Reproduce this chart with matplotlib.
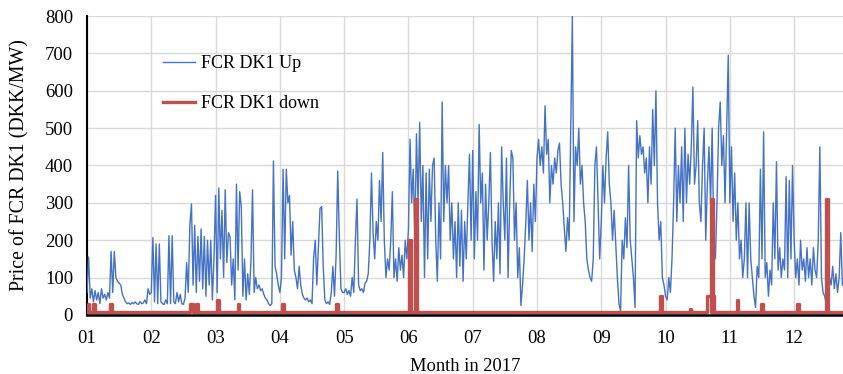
import matplotlib
matplotlib.use("Agg")
import matplotlib.pyplot as plt

# FCR DK1 prices 2017.
# Each "up" list holds values spread evenly over one month (40 per month).

MONTH_LABELS = ["01", "02", "03", "04", "05", "06", "07", "08", "09", "10", "11", "12"]
PER_MONTH = 40

up_jan = [60, 155, 45, 70, 35, 65, 40, 60, 30, 70, 45, 55, 40, 60, 45, 170, 60, 170, 100, 90,
          85, 80, 55, 45, 35, 30, 32, 28, 33, 30, 35, 30, 28, 36, 30, 32, 40, 30, 70, 55]
up_feb = [60, 207, 35, 190, 30, 190, 35, 30, 28, 40, 30, 212, 30, 212, 35, 30, 60, 35, 55, 30,
          28, 45, 140, 60, 240, 297, 80, 240, 60, 210, 90, 230, 70, 210, 50, 200, 80, 200, 40, 150]
up_mar = [320, 60, 340, 150, 280, 100, 335, 140, 220, 210, 80, 150, 40, 350, 120, 330, 290, 50, 150, 40,
          110, 55, 140, 335, 60, 100, 70, 80, 65, 70, 55, 45, 40, 30, 25, 30, 412, 130, 110, 80]
up_apr = [60, 100, 390, 150, 390, 300, 320, 160, 250, 120, 100, 70, 130, 80, 55, 45, 40, 45, 35, 40,
          30, 150, 200, 80, 180, 285, 290, 130, 40, 30, 35, 28, 60, 130, 50, 160, 385, 210, 70, 60]
up_may = [60, 70, 55, 65, 50, 100, 60, 200, 310, 80, 65, 70, 60, 85, 90, 110, 200, 380, 220, 150,
          250, 200, 360, 250, 435, 200, 100, 150, 120, 200, 330, 100, 150, 90, 180, 120, 160, 100, 200, 150]
up_jun = [230, 470, 300, 390, 200, 485, 300, 515, 250, 400, 100, 380, 150, 390, 250, 400, 420, 200, 90, 300,
          150, 570, 250, 400, 300, 400, 200, 300, 150, 250, 100, 300, 130, 280, 90, 250, 150, 300, 430, 200]
up_jul = [440, 150, 330, 200, 510, 300, 380, 120, 350, 200, 300, 435, 200, 90, 250, 150, 300, 110, 450, 300,
          200, 420, 100, 300, 440, 420, 200, 300, 100, 180, 25, 80, 150, 245, 360, 200, 300, 170, 350, 250]
up_aug = [420, 470, 400, 450, 380, 560, 430, 470, 300, 400, 350, 420, 380, 440, 460, 350, 300, 230, 170, 260,
          200, 500, 800, 250, 450, 400, 500, 350, 400, 300, 250, 150, 120, 100, 90, 150, 400, 450, 300, 150]
up_sep = [250, 400, 300, 420, 490, 350, 300, 200, 280, 190, 100, 30, 10, 200, 150, 260, 180, 400, 200, 150,
          100, 20, 520, 420, 480, 430, 450, 380, 420, 300, 450, 350, 550, 400, 600, 300, 200, 250, 100, 80]
up_oct = [50, 40, 100, 60, 150, 300, 500, 250, 400, 300, 450, 250, 500, 300, 430, 350, 450, 610, 350, 400,
          520, 300, 250, 400, 500, 200, 350, 450, 300, 500, 200, 150, 300, 500, 570, 400, 480, 300, 500, 695]
up_nov = [300, 450, 250, 380, 200, 300, 150, 200, 100, 150, 300, 100, 300, 150, 100, 50, 20, 130, 100, 390,
          150, 490, 100, 140, 50, 120, 80, 300, 150, 410, 120, 180, 100, 150, 120, 370, 100, 360, 150, 400]
up_dec = [200, 100, 150, 80, 200, 120, 150, 90, 180, 100, 150, 80, 180, 120, 100, 200, 450, 100, 60, 50,
          30, 60, 100, 80, 130, 70, 110, 60, 100, 220, 80]

up_months = [up_jan, up_feb, up_mar, up_apr, up_may, up_jun,
             up_jul, up_aug, up_sep, up_oct, up_nov, up_dec]

# "down" price: flat low level with a few spikes (month position, height)
down_base = 9
down_spike_month = [0.02, 0.11, 0.37, 1.63, 1.71, 2.04, 2.36, 3.05, 3.89,
                    5.02, 5.12, 8.93, 9.39, 9.70, 9.72, 10.12, 10.50, 11.06, 11.51]
down_spike_value = [30, 30, 30, 30, 30, 40, 30, 30, 30,
                    200, 310, 50, 15, 50, 310, 40, 30, 30, 310]
down_spike_half = [0.012, 0.012, 0.012, 0.02, 0.012, 0.02, 0.012, 0.012, 0.012,
                   0.018, 0.018, 0.02, 0.012, 0.05, 0.012, 0.008, 0.008, 0.008, 0.022]

up_x, up_y = [], []
for m, vals in enumerate(up_months):
    for i, v in enumerate(vals):
        up_x.append(m + i / PER_MONTH)
        up_y.append(v)

down_x, down_y = [0.0], [down_base]
for m, h, w in zip(down_spike_month, down_spike_value, down_spike_half):
    down_x += [m - w, m - w, m + w, m + w]
    down_y += [down_base, h, h, down_base]
down_x.append(12.0)
down_y.append(down_base)

plt.rcParams['font.family'] = ['Liberation Serif', 'DejaVu Serif']

fig = plt.figure(figsize=(8.43, 3.74), dpi=100)
ax = fig.add_axes([0.1032, 0.158, 0.8968, 0.799])

ax.plot(up_x, up_y, color='#4472C4', lw=1.0, label='FCR DK1 Up', zorder=3)
ax.plot(down_x, down_y, color='#C0504D', lw=2.4, label='FCR DK1 down', zorder=4)

ax.set_xlim(0, 11.76)
ax.set_ylim(0, 800)
ax.set_xticks(range(12))
ax.set_xticklabels(MONTH_LABELS)
ax.set_yticks(range(0, 801, 100))
ax.tick_params(axis='y', length=0, labelsize=13.5, pad=10)
ax.tick_params(axis='x', length=0, labelsize=13.5, pad=11)
ax.grid(True, color='#D9D9D9', lw=1)
ax.set_axisbelow(True)
for s in ['top', 'right']:
    ax.spines[s].set_visible(False)
ax.spines['left'].set_linewidth(1.5)
ax.spines['bottom'].set_linewidth(1.8)
ax.spines['bottom'].set_zorder(5)

ax.set_ylabel('Price of FCR DK1 (DKK/MW)', fontsize=14.3, labelpad=11)
ax.set_xlabel('Month in 2017', fontsize=13.3, labelpad=8)

ax.legend(loc='upper left', bbox_to_anchor=(0.079, 0.923), frameon=False,
          fontsize=13, handlelength=1.8, handletextpad=0.28, labelspacing=1.25)

fig.savefig('out.png', dpi=100)
